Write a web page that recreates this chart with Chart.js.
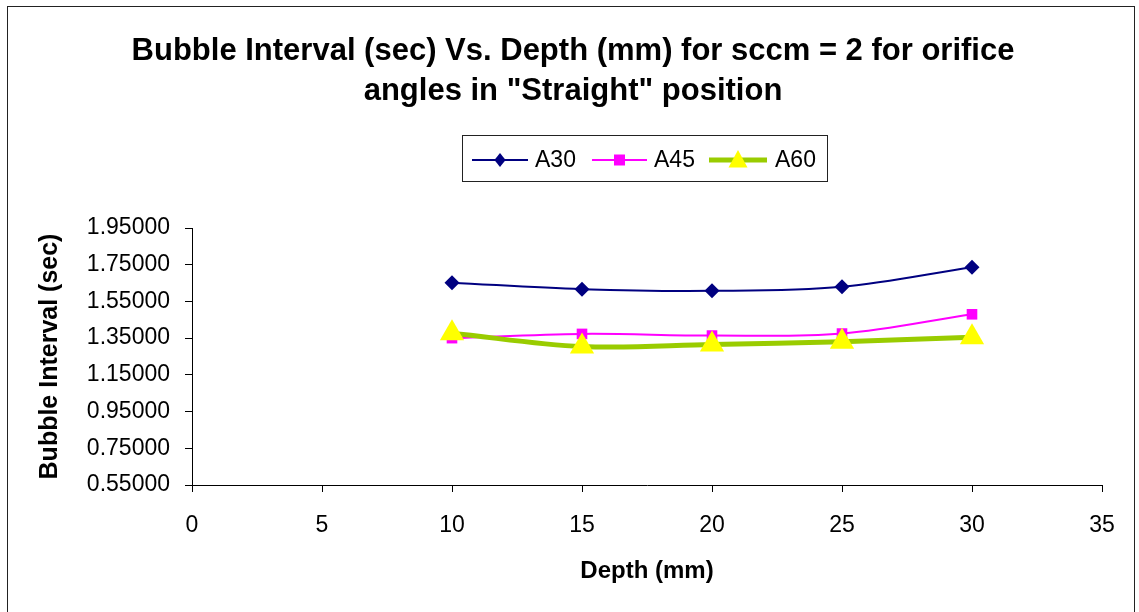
<!DOCTYPE html>
<html><head><meta charset="utf-8">
<script src="https://cdn.jsdelivr.net/npm/chart.js@4.4.1/dist/chart.umd.min.js"></script>
<style>html,body{margin:0;padding:0;background:#fff;overflow:hidden}</style>
</head><body>
<canvas id="c" width="1139" height="612" style="width:1139px;height:612px;display:block"></canvas>
<script>
// ---- data ----
const depths = [10, 15, 20, 25, 30];
const a30 = [1.652, 1.617, 1.608, 1.630, 1.736];
const a45 = [1.350, 1.373, 1.364, 1.375, 1.480];
const a60 = [1.377, 1.304, 1.315, 1.331, 1.355];
const seriesNames = ['A30', 'A45', 'A60'];
const titleLines = ['Bubble Interval (sec) Vs. Depth (mm) for sccm = 2 for orifice', 'angles in "Straight" position'];
const xAxisTitle = 'Depth (mm)';
const yAxisTitle = 'Bubble Interval (sec)';
const xMin = 0, xMax = 35, xStep = 5;
const yMin = 0.55, yMax = 1.95, yStep = 0.2;

const FONT = "'Liberation Sans', Arial, sans-serif";
const colA30 = '#000080', colA45 = '#FF00FF', colA60Line = '#99CC00', colA60Mark = '#FFFF00';

function pts(ys) { return depths.map((d, i) => ({x: d, y: ys[i]})); }

const bgBorder = {
  id: 'bgBorder',
  beforeDraw(chart) {
    const ctx = chart.ctx;
    ctx.save();
    ctx.fillStyle = '#fff';
    ctx.fillRect(0, 0, chart.width, chart.height);
    ctx.strokeStyle = '#222';
    ctx.lineWidth = 1;
    ctx.strokeRect(7.5, 6.5, 1127, 700);
    ctx.restore();
  }
};

function drawMarker(ctx, kind, x, y, r, fill) {
  ctx.fillStyle = fill;
  ctx.beginPath();
  if (kind === 'diamond') {
    ctx.moveTo(x, y - r); ctx.lineTo(x + r * 0.8, y); ctx.lineTo(x, y + r); ctx.lineTo(x - r * 0.8, y);
  } else if (kind === 'square') {
    ctx.rect(x - r, y - r, 2 * r, 2 * r);
  } else {
    ctx.moveTo(x, y - r); ctx.lineTo(x + r * 0.95, y + r * 0.75); ctx.lineTo(x - r * 0.95, y + r * 0.75);
  }
  ctx.closePath();
  ctx.fill();
}

const customLegend = {
  id: 'customLegend',
  afterDraw(chart) {
    const ctx = chart.ctx;
    ctx.save();
    ctx.strokeStyle = '#222';
    ctx.lineWidth = 1;
    ctx.strokeRect(462.5, 135.5, 365, 46);
    const cy = 160;
    const items = [
      {x0: 472, x1: 528, col: colA30, lw: 2, mk: 'diamond', mc: colA30, r: 7, tx: 535},
      {x0: 592, x1: 647, col: colA45, lw: 2, mk: 'square', mc: colA45, r: 5.5, tx: 654},
      {x0: 709, x1: 767, col: colA60Line, lw: 5, mk: 'tri', mc: colA60Mark, r: 10, tx: 775}
    ];
    ctx.font = '23px ' + FONT;
    ctx.textBaseline = 'middle';
    ctx.textAlign = 'left';
    items.forEach((it, i) => {
      ctx.strokeStyle = it.col;
      ctx.lineWidth = it.lw;
      ctx.beginPath(); ctx.moveTo(it.x0, cy); ctx.lineTo(it.x1, cy); ctx.stroke();
      drawMarker(ctx, it.mk, (it.x0 + it.x1) / 2, cy, it.r, it.mc);
      ctx.fillStyle = '#000';
      ctx.fillText(seriesNames[i], it.tx, cy + 1);
    });
    ctx.restore();
  }
};

const axisGrid = {display: true, drawOnChartArea: false, drawTicks: true, tickLength: 7, color: '#000', lineWidth: 1};

new Chart(document.getElementById('c'), {
  type: 'scatter',
  data: {
    datasets: [
      {label: seriesNames[0], data: pts(a30), showLine: true, borderColor: colA30, backgroundColor: colA30,
       borderWidth: 2, pointStyle: 'rectRot', pointRadius: 7.5, pointBorderWidth: 0, tension: 0.35, order: 3, clip: false},
      {label: seriesNames[1], data: pts(a45), showLine: true, borderColor: colA45, backgroundColor: colA45,
       borderWidth: 2, pointStyle: 'rect', pointRadius: 7.5, pointBorderWidth: 0, tension: 0.35, order: 2, clip: false},
      {label: seriesNames[2], data: pts(a60), showLine: true, borderColor: colA60Line, backgroundColor: colA60Mark,
       pointBackgroundColor: colA60Mark, borderWidth: 5, pointStyle: 'triangle', pointRadius: 14, pointBorderWidth: 0,
       tension: 0.35, order: 1, clip: false}
    ]
  },
  options: {
    responsive: false,
    animation: false,
    devicePixelRatio: 1,
    layout: {padding: {left: 44, right: 37, top: 0, bottom: 0}},
    plugins: {
      legend: {display: false},
      tooltip: {enabled: false},
      title: {
        display: true,
        text: titleLines,
        color: '#000',
        font: {family: FONT, size: 31, weight: 'bold', lineHeight: 40 / 31},
        padding: {top: 31, bottom: 117}
      }
    },
    scales: {
      x: {
        type: 'linear', min: xMin, max: xMax,
        ticks: {stepSize: xStep, color: '#000', font: {family: FONT, size: 23}, padding: 20, maxRotation: 0},
        grid: axisGrid,
        border: {display: true, color: '#000', width: 1},
        title: {display: true, text: xAxisTitle, color: '#000',
                font: {family: FONT, size: 24, weight: 'bold'}, padding: {top: 0, bottom: 26}},
        afterFit(s) { s.height = 127; }
      },
      y: {
        type: 'linear', min: yMin, max: yMax,
        ticks: {stepSize: yStep, color: '#000', font: {family: FONT, size: 23}, padding: 15,
                callback: v => Number(v).toFixed(5)},
        grid: axisGrid,
        border: {display: true, color: '#000', width: 1},
        title: {display: true, text: yAxisTitle, color: '#000',
                font: {family: FONT, size: 25, weight: 'bold'}, padding: {top: -9, bottom: 0}},
        afterFit(s) { s.width = 148; }
      }
    }
  },
  plugins: [bgBorder, customLegend]
});
</script>
</body></html>
